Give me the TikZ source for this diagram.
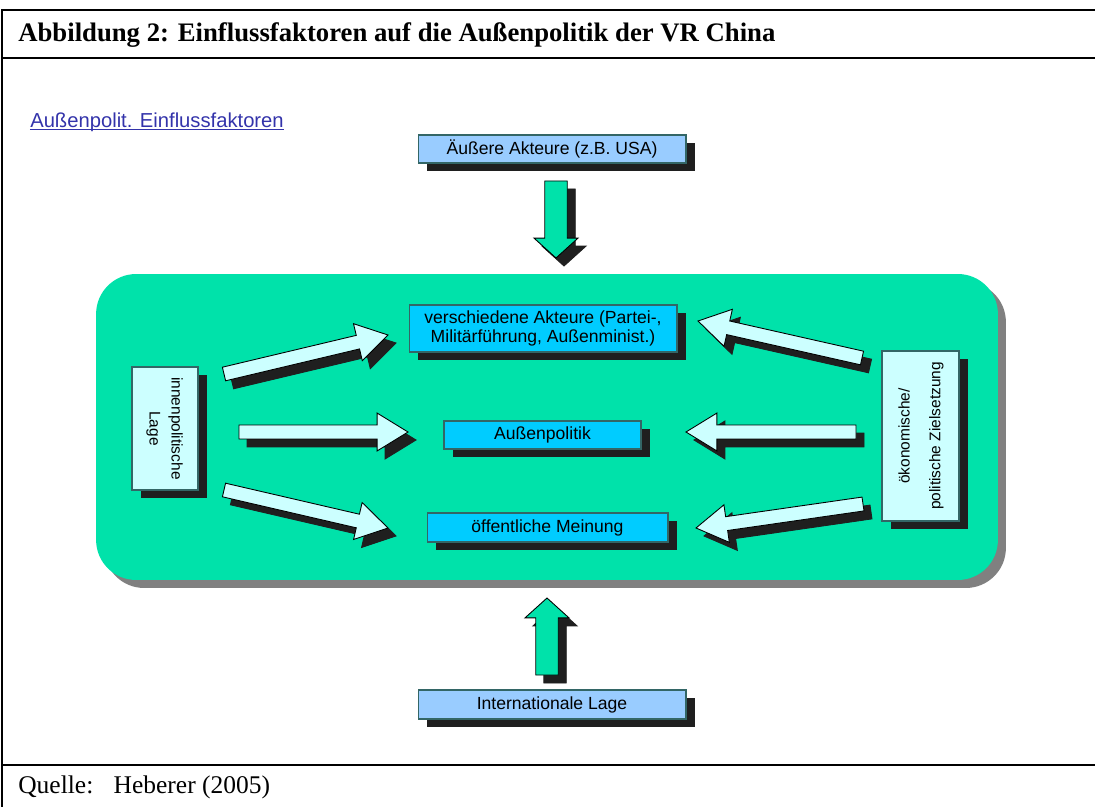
\documentclass[tikz,border=0pt]{standalone}
\usepackage{fontspec}
\setmainfont{Liberation Serif}
\newfontfamily\arialfont{Liberation Sans}
\usepackage{graphicx}
\usetikzlibrary{calc,shadows}

\definecolor{panelgreen}{RGB}{0,226,170}
\definecolor{outerblue}{RGB}{153,204,255}
\definecolor{innerblue}{RGB}{0,204,255}
\definecolor{palecyan}{RGB}{204,255,255}
\definecolor{boxline}{RGB}{51,102,102}
\definecolor{linkblue}{RGB}{51,51,170}

\newcommand{\sidefont}{\arialfont\fontsize{8.8}{12.5}\selectfont}

\tikzset{
  fbox/.style={draw=boxline, line width=0.6pt, inner sep=0pt, align=center,
    font=\arialfont\fontsize{10}{10.5}\selectfont,
    drop shadow={shadow xshift=0.18cm, shadow yshift=-0.16cm, fill=black!88, opacity=1}},
}

% block arrow from tail to tip: half shaft, half head, head length (pt)
\newcommand{\blockarrow}[6][palecyan]{%
  \pgfpointdiff{\pgfpointanchor{#2}{center}}{\pgfpointanchor{#3}{center}}%
  \pgfgetlastxy{\bdx}{\bdy}%
  \pgfmathsetmacro\barang{atan2(\bdy,\bdx)}%
  \pgfmathsetmacro\barlen{veclen(\bdx,\bdy)}%
  \pgfmathsetmacro\barhb{\barlen-#6}%
  \foreach \sx/\sy/\fc/\dc in {8/8/black!88/black!88, 0/0/#1/black}{%
    \begin{scope}[shift={($(#2)+(\sx,\sy)$)}, rotate=\barang]
      \filldraw[fill=\fc, draw=\dc, line width=0.5pt] (0pt,-#4pt) -- (\barhb pt,-#4pt)
        -- (\barhb pt,-#5pt) -- (\barlen pt,0pt) -- (\barhb pt,#5pt)
        -- (\barhb pt,#4pt) -- (0pt,#4pt) -- cycle;
    \end{scope}}}

\begin{document}
\begin{tikzpicture}[x=0.02cm, y=-0.02cm]
\useasboundingbox (0,0) rectangle (1095,807);

% frame
\draw[line width=1.1pt] (2,807) -- (2,10) -- (1095,10);
\draw[line width=1.1pt] (2,58) -- (1095,58) (2,765) -- (1095,765);
\node[anchor=west, inner sep=0pt, font=\bfseries\fontsize{15.2}{17}\selectfont] (title) at (18,35)
  {Abbildung 2: Einflussfaktoren auf die Außenpolitik der VR China};
\node[anchor=west, inner sep=0pt, font=\fontsize{14.5}{16}\selectfont] (quelle) at (18,787)
  {Quelle:\hspace{0.8em}Heberer (2005)};

\node[inner sep=0pt, text=linkblue, font=\arialfont\fontsize{11.5}{13}\selectfont] (link) at (157,122)
  {Außenpolit. Einflussfaktoren};
\draw[linkblue, line width=0.6pt] ([yshift=-1.2pt]link.base west) -- ([yshift=-1.2pt]link.base east);

% green panel
\node[fill=panelgreen, rounded corners=0.8cm, minimum width=18.04cm, minimum height=6.12cm,
  drop shadow={shadow xshift=0.16cm, shadow yshift=-0.16cm, fill=black!50, opacity=1}] (panel) at (547,427) {};

\node[fbox, fill=outerblue, minimum width=5.36cm, minimum height=0.56cm] (aussen) at (552,149) {Äußere Akteure (z.B. USA)};
\node[fbox, fill=outerblue, minimum width=5.36cm, minimum height=0.58cm] (inter) at (552,704.5) {Internationale Lage};
\node[fbox, fill=innerblue, minimum width=5.36cm, minimum height=0.94cm] (akteure) at (543,328.5)
  {verschiedene Akteure (Partei-,\\Militärführung, Außenminist.)};
\node[fbox, fill=innerblue, minimum width=3.94cm, minimum height=0.56cm] (politik) at (542.5,435) {Außenpolitik};
\node[fbox, fill=innerblue, minimum width=4.82cm, minimum height=0.58cm] (meinung) at (547.5,527.5) {öffentliche Meinung};
\node[fbox, fill=palecyan, minimum width=1.32cm, minimum height=2.46cm] (innen) at (165,428.5)
  {\rotatebox{-90}{\sidefont\begin{tabular}{@{}c@{}}innenpolitische\\Lage\end{tabular}}};
\node[fbox, fill=palecyan, minimum width=1.54cm, minimum height=3.4cm] (ziel) at (920.5,436)
  {\rotatebox{90}{\sidefont\begin{tabular}{@{}c@{}}ökonomische/\\[5pt]politische Zielsetzung\end{tabular}}};

\coordinate (l1t) at (224,374); \coordinate (l1h) at (388,335);
\coordinate (l2t) at (239,432); \coordinate (l2h) at (408,432);
\coordinate (l3t) at (224,490); \coordinate (l3h) at (388,528);
\coordinate (r1t) at (862,358); \coordinate (r1h) at (698,321);
\coordinate (r2t) at (856,432); \coordinate (r2h) at (686,432);
\coordinate (r3t) at (863,504); \coordinate (r3h) at (696,528);
\coordinate (dnt) at (556,181); \coordinate (dnh) at (556,258);
\coordinate (upt) at (547,675); \coordinate (uph) at (547,598);

\foreach \t/\h in {l1t/l1h, l2t/l2h, l3t/l3h, r1t/r1h, r2t/r2h, r3t/r3h}
  \blockarrow{\t}{\h}{3.97}{10.8}{17.6};
\blockarrow[panelgreen]{dnt}{dnh}{6.4}{12.5}{11.3}
\blockarrow[panelgreen]{upt}{uph}{6.4}{12.5}{11.3}
\end{tikzpicture}
\end{document}
